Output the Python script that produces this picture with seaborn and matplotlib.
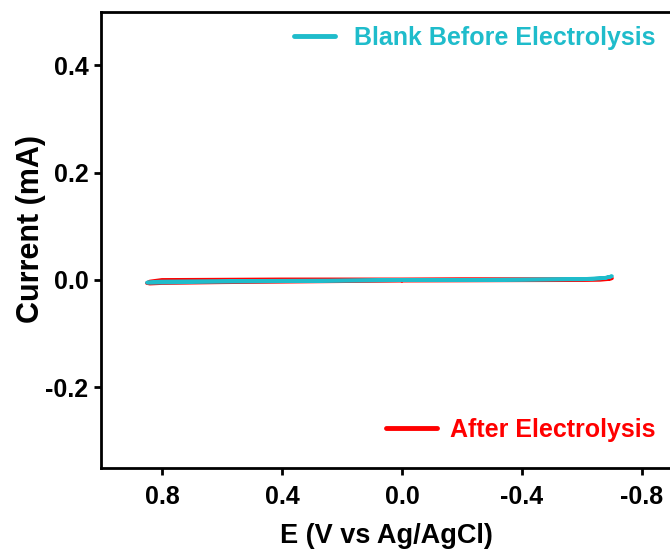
import matplotlib
matplotlib.use("Agg")
import matplotlib.pyplot as plt
import seaborn as sns
import pandas as pd
from matplotlib.lines import Line2D

# Cyclic voltammograms: scan starts at 0.0 V, goes cathodic to -0.70 V,
# reverses to +0.85 V and returns to 0.0 V.
potential_blank = [0.00, -0.20, -0.40, -0.60, -0.66, -0.69, -0.70, -0.68, -0.60,
                   -0.40, -0.20, 0.00, 0.20, 0.40, 0.60, 0.80, 0.84, 0.85,
                   0.84, 0.80, 0.60, 0.40, 0.20, 0.00]
current_blank = [-0.0005, 0.0000, 0.0005, 0.0010, 0.0025, 0.0050, 0.0070, 0.0040, 0.0015,
                 0.0005, 0.0000, -0.0005, -0.0010, -0.0015, -0.0020, -0.0030, -0.0040, -0.0050,
                 -0.0055, -0.0050, -0.0035, -0.0025, -0.0015, -0.0005]

potential_after = [0.00, -0.20, -0.40, -0.60, -0.66, -0.69, -0.70, -0.68, -0.60,
                   -0.40, -0.20, 0.00, 0.20, 0.40, 0.60, 0.80, 0.84, 0.85,
                   0.84, 0.80, 0.60, 0.40, 0.20, 0.00]
current_after = [-0.0015, -0.0012, -0.0008, -0.0005, 0.0000, 0.0015, 0.0030, 0.0025, 0.0015,
                 0.0015, 0.0015, 0.0010, 0.0010, 0.0010, 0.0005, 0.0000, -0.0030, -0.0060,
                 -0.0070, -0.0060, -0.0045, -0.0035, -0.0025, -0.0015]

series_names = ["After Electrolysis", "Blank Before Electrolysis"]
series_colors = {"After Electrolysis": "#FF0000",
                 "Blank Before Electrolysis": "#1FBCCB"}

frames = []
for name, pot, cur in [(series_names[0], potential_after, current_after),
                       (series_names[1], potential_blank, current_blank)]:
    frames.append(pd.DataFrame({"E": pot, "I": cur, "series": name,
                                "step": range(len(pot))}))
df = pd.concat(frames, ignore_index=True)

sns.set_style("ticks")
plt.rcParams["font.family"] = ["Liberation Sans", "DejaVu Sans"]
plt.rcParams["font.weight"] = "bold"
plt.rcParams["text.color"] = "black"
plt.rcParams["axes.labelcolor"] = "black"

fig = plt.figure(figsize=(6.70, 5.56), dpi=100)
ax = fig.add_axes([0.1507, 0.158, 1.003 - 0.1507, 0.978 - 0.158])

sns.lineplot(data=df, x="E", y="I", hue="series", units="series", estimator=None,
             sort=False, palette=series_colors, hue_order=series_names,
             linewidth=2.6, legend=False, ax=ax)

ax.set_xlim(1.003, -0.9)
ax.set_ylim(-0.351, 0.499)
ax.set_xticks([0.8, 0.4, 0.0, -0.4, -0.8])
ax.set_xticklabels(["0.8", "0.4", "0.0", "-0.4", "-0.8"])
ax.set_yticks([-0.2, 0.0, 0.2, 0.4])
ax.set_yticklabels(["-0.2", "0.0", "0.2", "0.4"])

for side in ["left", "bottom", "top", "right"]:
    ax.spines[side].set_linewidth(2.0)
    ax.spines[side].set_color("black")
ax.tick_params(axis="both", direction="out", length=5, width=2.0,
               labelsize=18, colors="black")
ax.tick_params(axis="x", pad=7)
ax.tick_params(axis="y", pad=4)
for lab in ax.get_xticklabels() + ax.get_yticklabels():
    lab.set_fontweight("bold")

ax.set_xlabel("E (V vs Ag/AgCl)", fontsize=19.5, fontweight="bold", labelpad=10,
              color="black")
ax.set_ylabel("Current (mA)", fontsize=22, fontweight="bold", color="black")
ax.yaxis.set_label_coords(-0.096, 0.524)

# Two separate legend entries, each with its label coloured like its line
leg1 = ax.legend(handles=[Line2D([], [], color=series_colors["Blank Before Electrolysis"], lw=3.5)],
                 labels=["Blank Before Electrolysis"], loc="center right",
                 bbox_to_anchor=(656 / 670, 1 - 38 / 556), bbox_transform=fig.transFigure,
                 frameon=False, handlelength=1.64, handletextpad=0.8,
                 borderaxespad=0, borderpad=0,
                 prop={"size": 18, "weight": "bold"})
for t in leg1.get_texts():
    t.set_color(series_colors["Blank Before Electrolysis"])
ax.add_artist(leg1)

leg2 = ax.legend(handles=[Line2D([], [], color=series_colors["After Electrolysis"], lw=3.5)],
                 labels=["After Electrolysis"], loc="center right",
                 bbox_to_anchor=(656 / 670, 1 - 430 / 556), bbox_transform=fig.transFigure,
                 frameon=False, handlelength=2.04, handletextpad=0.55,
                 borderaxespad=0, borderpad=0,
                 prop={"size": 18, "weight": "bold"})
for t in leg2.get_texts():
    t.set_color(series_colors["After Electrolysis"])

fig.savefig("out.png", dpi=100)
